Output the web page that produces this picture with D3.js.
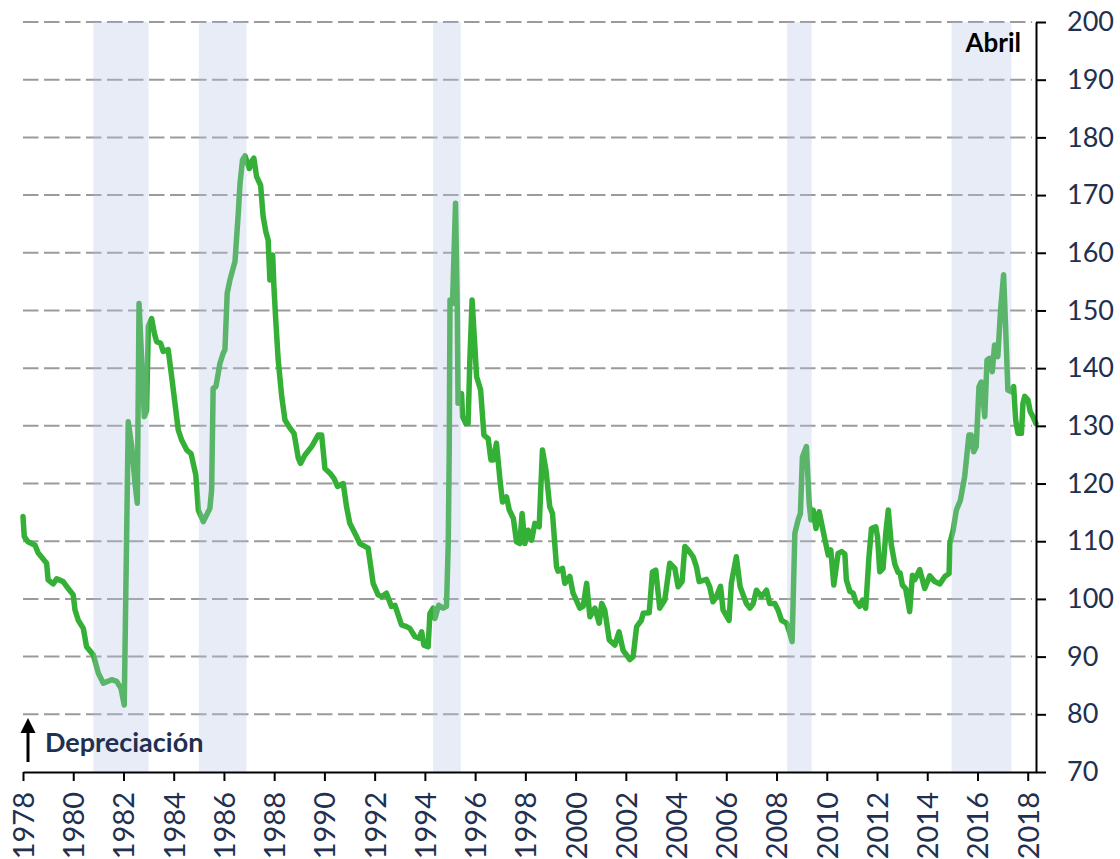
<!DOCTYPE html>
<html>
<head>
<meta charset="utf-8">
<script src="https://d3js.org/d3.v7.min.js"></script>
<style>
  body { margin: 0; background: #fff; }
  text { font-family: "Lato", "Open Sans", sans-serif; }
</style>
</head>
<body>
<div id="chart"></div>
<script>
// fechas en años decimales (mensual aprox.) y valor del índice
var fechas = [
  1978.00, 1978.05, 1978.20, 1978.48, 1978.60, 1978.94, 1979.00, 1979.20, 1979.34, 1979.60,
  1979.80, 1980.00, 1980.07, 1980.20, 1980.40, 1980.53, 1980.80, 1981.00, 1981.20, 1981.53,
  1981.73, 1981.90, 1982.03, 1982.19, 1982.33, 1982.46, 1982.55, 1982.62, 1982.72, 1982.83,
  1982.92, 1982.99, 1983.12, 1983.23, 1983.32, 1983.48, 1983.58, 1983.78, 1983.92, 1984.05,
  1984.18, 1984.32, 1984.52, 1984.69, 1984.88, 1984.98, 1985.18, 1985.44, 1985.51, 1985.57,
  1985.68, 1985.84, 1985.97, 1986.04, 1986.13, 1986.24, 1986.44, 1986.57, 1986.64, 1986.74,
  1986.84, 1987.01, 1987.10, 1987.19, 1987.30, 1987.46, 1987.56, 1987.67, 1987.76, 1987.83,
  1987.94, 1987.99, 1988.07, 1988.16, 1988.30, 1988.43, 1988.63, 1988.79, 1988.96, 1989.05,
  1989.22, 1989.49, 1989.75, 1989.89, 1990.02, 1990.22, 1990.38, 1990.52, 1990.75, 1990.88,
  1991.01, 1991.28, 1991.41, 1991.74, 1991.94, 1992.14, 1992.28, 1992.47, 1992.67, 1992.81,
  1993.07, 1993.27, 1993.40, 1993.60, 1993.77, 1993.87, 1993.96, 1994.13, 1994.20, 1994.33,
  1994.40, 1994.55, 1994.73, 1994.86, 1994.93, 1994.97, 1995.00, 1995.10, 1995.22, 1995.29,
  1995.32, 1995.46, 1995.50, 1995.63, 1995.72, 1995.79, 1995.88, 1995.99, 1996.06, 1996.22,
  1996.35, 1996.52, 1996.63, 1996.72, 1996.85, 1996.99, 1997.09, 1997.25, 1997.36, 1997.52,
  1997.65, 1997.78, 1997.87, 1997.98, 1998.11, 1998.25, 1998.38, 1998.55, 1998.68, 1998.82,
  1998.97, 1999.08, 1999.24, 1999.30, 1999.48, 1999.57, 1999.77, 1999.90, 2000.17, 2000.30,
  2000.44, 2000.57, 2000.77, 2000.94, 2001.04, 2001.16, 2001.34, 2001.56, 2001.73, 2001.89,
  2002.16, 2002.29, 2002.43, 2002.62, 2002.69, 2002.93, 2003.06, 2003.19, 2003.35, 2003.55,
  2003.75, 2003.95, 2004.08, 2004.24, 2004.35, 2004.48, 2004.68, 2004.81, 2004.92, 2005.21,
  2005.34, 2005.47, 2005.61, 2005.77, 2005.87, 2006.11, 2006.20, 2006.40, 2006.55, 2006.80,
  2006.94, 2007.07, 2007.20, 2007.40, 2007.60, 2007.73, 2007.93, 2008.06, 2008.20, 2008.40,
  2008.53, 2008.62, 2008.73, 2008.86, 2008.95, 2009.03, 2009.19, 2009.30, 2009.37, 2009.46,
  2009.57, 2009.70, 2009.93, 2010.06, 2010.16, 2010.28, 2010.45, 2010.59, 2010.72, 2010.78,
  2010.92, 2011.05, 2011.16, 2011.31, 2011.42, 2011.55, 2011.68, 2011.78, 2011.95, 2012.02,
  2012.11, 2012.24, 2012.35, 2012.45, 2012.57, 2012.71, 2012.84, 2012.92, 2013.01, 2013.14,
  2013.30, 2013.41, 2013.50, 2013.70, 2013.90, 2014.10, 2014.30, 2014.50, 2014.70, 2014.87,
  2014.90, 2015.03, 2015.16, 2015.32, 2015.49, 2015.66, 2015.75, 2015.85, 2015.95, 2016.06,
  2016.15, 2016.29, 2016.38, 2016.48, 2016.59, 2016.68, 2016.81, 2016.92, 2017.04, 2017.12,
  2017.21, 2017.35, 2017.44, 2017.52, 2017.61, 2017.75, 2017.81, 2017.88, 2018.01, 2018.10,
  2018.21, 2018.33
];
var valores = [
  114.3, 110.8, 109.9, 109.3, 108.0, 106.2, 103.3, 102.6, 103.5, 103.0,
  101.8, 100.7, 98.1, 96.3, 94.9, 91.7, 90.3, 87.1, 85.4, 86.0,
  85.7, 84.5, 81.6, 130.7, 126.4, 120.0, 116.6, 151.2, 142.0, 131.6,
  132.7, 147.2, 148.6, 146.0, 144.6, 144.3, 142.9, 143.2, 138.5, 133.9,
  129.3, 127.5, 125.8, 125.2, 121.5, 115.4, 113.4, 115.7, 118.9, 136.5,
  136.8, 140.8, 142.6, 143.2, 153.0, 155.3, 158.5, 166.8, 172.0, 176.1,
  176.8, 174.6, 175.8, 176.4, 173.2, 171.7, 166.3, 163.6, 162.2, 155.3,
  159.6, 154.1, 147.8, 141.4, 135.1, 131.0, 129.6, 128.7, 124.4, 123.5,
  124.9, 126.4, 128.4, 128.4, 122.6, 121.8, 120.9, 119.5, 120.0, 116.0,
  113.1, 110.8, 109.6, 108.8, 102.7, 100.7, 100.4, 101.0, 98.7, 98.9,
  95.5, 95.2, 94.9, 93.5, 93.2, 94.3, 92.0, 91.7, 97.5, 98.4,
  96.6, 98.9, 98.4, 98.7, 109.6, 125.8, 151.8, 151.2, 168.6, 150.1,
  133.9, 135.6, 131.6, 130.4, 130.4, 141.4, 151.8, 143.7, 138.5, 136.2,
  128.4, 127.8, 124.1, 124.1, 127.0, 120.6, 116.8, 117.7, 115.4, 114.0,
  109.9, 109.6, 114.8, 109.6, 111.9, 110.2, 113.1, 112.5, 125.8, 122.3,
  116.0, 114.8, 105.6, 104.8, 105.3, 102.7, 103.9, 101.0, 98.4, 98.7,
  102.7, 96.9, 98.4, 95.8, 99.2, 98.1, 92.9, 92.0, 94.3, 91.1,
  89.5, 90.0, 95.2, 96.3, 97.5, 97.6, 104.7, 105.0, 98.4, 99.8,
  106.2, 105.3, 102.1, 103.0, 109.1, 108.5, 107.3, 105.6, 103.0, 103.4,
  102.1, 99.5, 100.4, 102.2, 98.1, 96.3, 102.7, 107.3, 102.1, 99.2,
  98.4, 99.2, 101.5, 100.4, 101.5, 99.2, 99.2, 98.1, 96.3, 95.8,
  94.0, 92.6, 111.4, 113.7, 114.8, 124.6, 126.4, 116.6, 113.7, 115.4,
  112.2, 115.1, 110.2, 107.6, 108.5, 102.4, 107.9, 108.2, 107.8, 103.3,
  101.3, 101.0, 99.5, 98.7, 99.8, 98.4, 107.3, 112.2, 112.5, 110.8,
  104.7, 105.3, 111.4, 115.4, 109.4, 106.0, 104.6, 104.5, 102.4, 101.8,
  97.8, 104.1, 103.3, 105.1, 101.8, 104.0, 103.0, 102.6, 103.9, 104.4,
  109.6, 111.9, 115.4, 117.1, 121.2, 128.4, 128.4, 125.5, 126.4, 136.8,
  137.6, 131.6, 141.4, 141.7, 139.4, 144.0, 142.0, 150.1, 156.2, 147.2,
  136.2, 135.9, 136.8, 131.0, 128.7, 128.7, 133.9, 135.1, 134.5, 132.5,
  131.6, 130.4
];

// periodos sombreados
var sombraInicio = [1980.8, 1985.0, 1994.33, 2008.42, 2014.97];
var sombraFin    = [1983.0, 1986.9, 1995.43, 2009.4, 2017.35];

var yTicks = d3.range(70, 201, 10);
var xTicks = d3.range(1978, 2019, 2);

var width = 1120,
    height = 859;

var mLeft = 23, mRight = 1036, mTop = 22, mBottom = 772;

var svg = d3.select("#chart")
    .append("svg")
    .attr("width", width)
    .attr("height", height);

var x = d3.scaleLinear()
    .domain([1978, 2018.33])
    .range([mLeft, mRight]);

var y = d3.scaleLinear()
    .domain([70, 200])
    .range([mBottom, mTop]);

// grid
svg.append("g")
    .selectAll("line")
    .data(yTicks.filter(function (d) { return d > 70; }))
    .enter()
    .append("line")
    .attr("x1", mLeft)
    .attr("x2", mRight - 4)
    .attr("y1", function (d) { return y(d); })
    .attr("y2", function (d) { return y(d); })
    .style("stroke", "#9b9b9b")
    .style("stroke-width", 2)
    .style("stroke-dasharray", "15.5,5.5");

var datos = fechas.map(function (f, i) { return [f, valores[i]]; });

var linea = d3.line()
    .x(function (d) { return x(d[0]); })
    .y(function (d) { return y(d[1]); });

svg.append("path")
    .datum(datos)
    .attr("d", linea)
    .attr("fill", "none")
    .style("stroke", "#33b035")
    .style("stroke-width", 5.5)
    .style("stroke-linejoin", "round")
    .style("stroke-linecap", "round");

// bands go over the line, semi transparent
svg.append("g")
    .selectAll("rect")
    .data(sombraInicio)
    .enter()
    .append("rect")
    .attr("x", function (d) { return x(d); })
    .attr("width", function (d, i) { return x(sombraFin[i]) - x(d); })
    .attr("y", mTop)
    .attr("height", mBottom - mTop)
    .style("fill", "rgb(177,195,225)")
    .style("opacity", 0.31);

// axes
var xAxis = svg.append("g")
    .attr("transform", "translate(0," + mBottom + ")")
    .call(d3.axisBottom(x).tickValues(xTicks).tickFormat(d3.format("d")).tickSize(9).tickSizeOuter(0));

xAxis.select(".domain").style("stroke", "#000").style("stroke-width", 2);
xAxis.selectAll(".tick line").style("stroke", "#000").style("stroke-width", 2);
xAxis.selectAll(".tick text")
    .attr("transform", "rotate(-90)")
    .attr("x", -20)
    .attr("y", 0)
    .attr("dy", "0.36em")
    .style("text-anchor", "end")
    .style("font-size", "29px")
    .style("font-family", "Lato")
    .style("fill", "#1f3050");

var yAxis = svg.append("g")
    .attr("transform", "translate(" + mRight + ",0)")
    .call(d3.axisRight(y).tickValues(yTicks).tickSize(10).tickPadding(21).tickSizeOuter(0));

yAxis.select(".domain").style("stroke", "#000").style("stroke-width", 2);
yAxis.selectAll(".tick line").style("stroke", "#000").style("stroke-width", 2);
yAxis.selectAll(".tick text")
    .style("font-size", "27px")
    .style("font-family", "Lato")
    .style("fill", "#1f3050");

// annotations
svg.append("text")
    .attr("x", 1021)
    .attr("y", 52)
    .attr("text-anchor", "end")
    .text("Abril")
    .style("font-size", "26px")
    .style("font-weight", "bold")
    .style("fill", "#000");

svg.append("line")
    .attr("x1", 28).attr("x2", 28)
    .attr("y1", 762).attr("y2", 730)
    .style("stroke", "#000")
    .style("stroke-width", 3);
svg.append("path")
    .attr("d", "M28,718 L35.5,733 L20.5,733 Z")
    .style("fill", "#000");

svg.append("text")
    .attr("x", 45)
    .attr("y", 752)
    .text("Depreciación")
    .style("font-size", "27px")
    .style("font-weight", "bold")
    .style("fill", "#1f3050");
</script>
</body>
</html>
